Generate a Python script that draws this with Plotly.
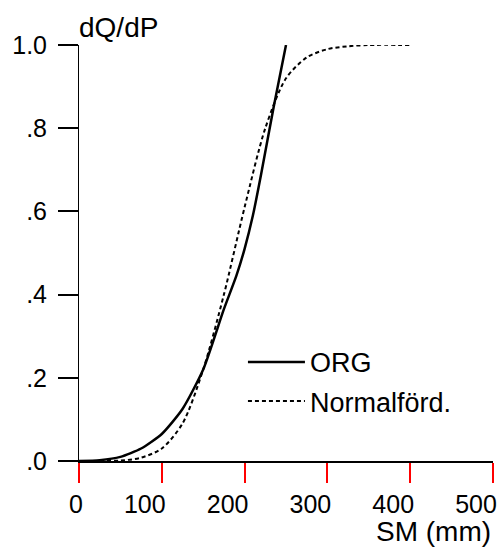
import plotly.graph_objects as go

# ORG curve
org_x = [0, 25, 50, 75, 100, 125, 150, 175, 190, 200, 210, 220, 235, 250]
org_y = [0, 0.002, 0.01, 0.03, 0.065, 0.125, 0.22, 0.365, 0.445, 0.51, 0.59, 0.69, 0.85, 1.0]

# Normal distribution curve
norm_x = [0, 25, 50, 75, 100, 125, 150, 175, 200, 225, 250, 275, 300, 325, 350, 400]
norm_y = [0, 0, 0.001, 0.008, 0.03, 0.09, 0.22, 0.40, 0.61, 0.80, 0.92, 0.97, 0.99, 0.997, 1.0, 1.0]

x_ticks = [0, 100, 200, 300, 400, 500]
x_labels = ["0", "100", "200", "300", "400", "500"]
y_ticks = [0, 0.2, 0.4, 0.6, 0.8, 1.0]
y_labels = [".0", ".2", ".4", ".6", ".8", "1.0"]

FONT = "Liberation Sans, Arial, Helvetica, sans-serif"

NBSP = "\u00a0"
x_text = [NBSP * (2 * (3 - len(s))) + s for s in x_labels]

fig = go.Figure()
fig.add_trace(go.Scatter(x=org_x, y=org_y, mode="lines", name="ORG",
                         line=dict(color="black", width=2.5, shape="spline", smoothing=0.6),
                         legend="legend"))
fig.add_trace(go.Scatter(x=norm_x, y=norm_y, mode="lines", name="Normalförd.",
                         line=dict(color="black", width=2, dash="4px,3px", shape="spline", smoothing=0.8),
                         legend="legend2"))

fig.update_layout(
    template="none",
    width=500, height=548,
    margin=dict(l=79, r=7, t=45, b=87),
    paper_bgcolor="white", plot_bgcolor="white",
    font=dict(family=FONT, size=25, color="black"),
    showlegend=True,
    legend=dict(x=0.396, y=0.237, xanchor="left", yanchor="middle", itemwidth=57,
                bgcolor="rgba(0,0,0,0)", font=dict(size=27)),
    legend2=dict(x=0.396, y=0.143, xanchor="left", yanchor="middle", itemwidth=57,
                 bgcolor="rgba(0,0,0,0)", font=dict(size=27)),
    xaxis=dict(range=[0, 500], tickvals=x_ticks, ticktext=x_text,
               ticks="outside", ticklen=20, tickwidth=2, tickcolor="red",
               showline=True, linecolor="black", linewidth=1.5,
               showgrid=False, zeroline=False, ticklabeloverflow="allow",
               automargin=False, ticklabelshift=-17,
               tickfont=dict(size=25)),
    yaxis=dict(range=[0, 1.0], tickvals=y_ticks, ticktext=y_labels,
               ticks="outside", ticklen=20, tickwidth=2, tickcolor="black",
               showline=True, linecolor="black", linewidth=1,
               showgrid=False, zeroline=True, automargin=False,
               ticklabelstandoff=6,
               tickfont=dict(size=25)),
    annotations=[
        dict(text="dQ/dP", xref="paper", yref="paper", x=-0.005, y=1.043,
             xanchor="left", yanchor="middle", showarrow=False, font=dict(size=28)),
        dict(text="SM (mm)", xref="paper", yref="paper", x=1.0, y=-0.17,
             xanchor="right", yanchor="middle", showarrow=False, font=dict(size=28)),
    ],
)

fig.write_html("out.html")
